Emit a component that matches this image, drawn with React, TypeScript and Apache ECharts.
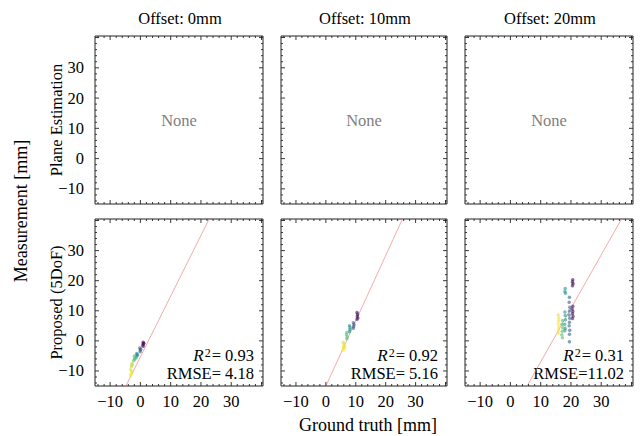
import React, { useEffect, useRef } from "react";
import * as echarts from "echarts";

// ---- data ----
const offsets = ["Offset: 0mm", "Offset: 10mm", "Offset: 20mm"];
const rowLabels = ["Plane Estimation", "Proposed (5DoF)"];
const AX_MIN = -15;
const AX_MAX = 40.5;
const tickLabels = [-10, 0, 10, 20, 30];
const majorTicks = [-10, 0, 10, 20, 30, 40];
const minorTicks = [-14, -12, -8, -6, -4, -2, 2, 4, 6, 8, 12, 14, 16, 18, 22, 24, 26, 28, 32, 34, 36, 38];

// [ground truth, measurement, colour index]
const proposed0mm = [
  [0.9, -0.5, 0.02], [1.0, -1.0, 0.02], [0.8, -1.4, 0.04], [1.1, -0.8, 0.03], [0.9, -1.8, 0.05],
  [-0.2, -2.4, 0.28], [0.0, -3.0, 0.3], [-0.1, -3.6, 0.3], [0.1, -2.8, 0.27],
  [-1.2, -4.2, 0.48], [-1.0, -4.8, 0.5], [-1.3, -5.4, 0.5], [-1.1, -4.5, 0.47],
  [-2.0, -5.0, 0.66], [-1.8, -5.8, 0.68], [-2.2, -6.5, 0.7], [-1.9, -6.1, 0.7],
  [-2.8, -7.5, 0.88], [-3.0, -8.5, 0.9], [-3.2, -9.5, 0.95], [-2.9, -10.2, 0.95],
  [-3.1, -11.0, 0.98], [-3.3, -11.5, 1.0], [-2.7, -8.0, 0.9],
];
const proposed10mm = [
  [10.4, 9.4, 0.02], [10.6, 8.8, 0.03], [10.5, 8.2, 0.04], [10.7, 7.6, 0.05], [10.4, 7.2, 0.05],
  [9.2, 6.0, 0.28], [9.4, 5.4, 0.3], [9.3, 4.8, 0.3], [9.2, 4.2, 0.32],
  [7.9, 5.0, 0.48], [8.1, 4.4, 0.5], [8.0, 3.7, 0.5], [7.9, 3.0, 0.52],
  [7.0, 2.8, 0.68], [6.9, 2.1, 0.7], [7.1, 1.4, 0.7], [7.0, 0.7, 0.72],
  [5.8, -0.5, 0.93], [6.1, -1.2, 0.95], [5.9, -1.9, 0.97], [6.0, -2.6, 1.0], [5.8, -3.1, 1.0], [6.3, -2.0, 0.98],
];
const proposed20mm = [
  [20.6, 20.3, 0.02], [20.5, 19.6, 0.03], [20.7, 19.0, 0.04], [20.5, 18.3, 0.05],
  [20.6, 11.5, 0.03], [20.4, 10.6, 0.04], [20.6, 9.8, 0.05], [20.5, 9.0, 0.05], [20.7, 8.2, 0.06], [20.5, 7.4, 0.06],
  [19.5, 14.5, 0.3], [19.4, 12.8, 0.3], [19.6, 11.2, 0.3], [19.5, 9.9, 0.32], [19.4, 8.6, 0.3],
  [19.6, 7.5, 0.32], [19.5, 6.2, 0.3], [19.4, 5.0, 0.33], [19.6, 3.5, 0.3], [19.5, 2.2, 0.32], [19.5, -0.3, 0.3],
  [18.1, 17.4, 0.5], [18.0, 16.4, 0.5], [18.2, 15.8, 0.52], [18.0, 9.6, 0.5], [18.1, 8.4, 0.5],
  [18.2, 7.0, 0.52], [17.9, 5.5, 0.5], [18.1, 4.2, 0.5], [18.0, 3.4, 0.52],
  [17.2, 6.8, 0.7], [17.0, 5.5, 0.7], [17.3, 4.4, 0.72], [17.1, 3.2, 0.7], [17.0, 2.0, 0.7], [17.2, 1.0, 0.72],
  [15.8, 8.6, 0.95], [16.0, 7.6, 0.96], [15.9, 6.6, 0.97], [15.8, 5.6, 1.0], [16.0, 4.6, 0.98], [15.9, 3.6, 1.0], [15.8, 2.6, 0.97],
];
const proposedData = [proposed0mm, proposed10mm, proposed20mm];

// fitted line end points [[x1, y1], [x2, y2]]
const fitLines = [
  [[-4.8, -15], [22.7, 40.5]],
  [[0.0, -15], [25.6, 40.5]],
  [[5.5, -15], [36.7, 40.5]],
];
const r2Values = ["0.93", "0.92", "0.31"];
const rmseValues = [" 4.18", " 5.16", "11.02"];

const viridis = ["#440154", "#3b528b", "#21918c", "#5ec962", "#fde725"];

// ---- layout ----
const colLeft = [95, 281, 465];
const colWidth = [168, 166, 168];
const rowTop = [36, 219];
const rowHeight = [168, 167];
const FONT = "'Liberation Serif', 'Times New Roman', serif";
const FS = 16.5;

const fmt = (v: number) => {
  if (!tickLabels.some((t) => Math.abs(t - v) < 1e-9)) return "";
  return v < 0 ? "\u2212" + Math.abs(v) : String(v);
};

export default function App() {
  const ref = useRef<HTMLDivElement>(null);
  useEffect(() => {
    document.body.style.margin = "0";
    const chart = echarts.init(ref.current!, null, { renderer: "svg" });
    const grids: any[] = [];
    const xAxes: any[] = [];
    const yAxes: any[] = [];
    const series: any[] = [];
    const scatterIdx: number[] = [];
    const graphics: any[] = [];
    const tickItems = [
      ...majorTicks.map((v) => [v, 0]),
      ...minorTicks.map((v) => [v, 1]),
    ];
    const center = { textAlign: "center", textVerticalAlign: "middle", align: "center", verticalAlign: "middle" };
    const rightMid = { textAlign: "right", textVerticalAlign: "middle", align: "right", verticalAlign: "middle" };
    for (let r = 0; r < 2; r++) {
      for (let c = 0; c < 3; c++) {
        const gi = r * 3 + c;
        grids.push({
          left: colLeft[c],
          top: rowTop[r],
          width: colWidth[c],
          height: rowHeight[r],
          show: true,
          borderColor: "#222",
          borderWidth: 1,
          backgroundColor: "transparent",
        });
        const labelStyle = { fontFamily: FONT, fontSize: FS, color: "#000" };
        xAxes.push({
          type: "value",
          gridIndex: gi,
          min: AX_MIN,
          max: AX_MAX,
          axisLine: { show: false },
          axisTick: { show: false },
          splitLine: { show: false },
          axisLabel: { show: r === 1, formatter: fmt, margin: 7, ...labelStyle },
        });
        yAxes.push({
          type: "value",
          gridIndex: gi,
          min: AX_MIN,
          max: AX_MAX,
          axisLine: { show: false },
          axisTick: { show: false },
          splitLine: { show: false },
          axisLabel: { show: c === 0, formatter: fmt, margin: 11, ...labelStyle },
        });
        series.push({
          type: "custom",
          xAxisIndex: gi,
          yAxisIndex: gi,
          silent: true,
          clip: false,
          z: 10,
          data: tickItems,
          renderItem: (params: any, api: any) => {
            const v = api.value(0);
            const k = api.value(1);
            const cs = params.coordSys;
            const len = k === 0 ? 4 : 2;
            const px = api.coord([v, AX_MIN])[0];
            const py = api.coord([AX_MIN, v])[1];
            const style = { stroke: "#222", lineWidth: 0.9 };
            const b = cs.y + cs.height;
            const rgt = cs.x + cs.width;
            return {
              type: "group",
              children: [
                { type: "line", shape: { x1: px, y1: b, x2: px, y2: b - len }, style },
                { type: "line", shape: { x1: px, y1: cs.y, x2: px, y2: cs.y + len }, style },
                { type: "line", shape: { x1: cs.x, y1: py, x2: cs.x + len, y2: py }, style },
                { type: "line", shape: { x1: rgt, y1: py, x2: rgt - len, y2: py }, style },
              ],
            };
          },
        });
        if (r === 0) {
          graphics.push({
            type: "text",
            x: colLeft[c] + colWidth[c] / 2,
            y: rowTop[r] + rowHeight[r] / 2,
            style: { text: "None", font: `${FS}px ${FONT}`, fill: "#808080", ...center },
          });
        } else {
          scatterIdx.push(series.length);
          series.push({
            type: "scatter",
            xAxisIndex: gi,
            yAxisIndex: gi,
            symbol: "circle",
            symbolSize: 3.5,
            itemStyle: { opacity: 0.6 },
            data: proposedData[c],
            z: 3,
          });
          series.push({
            type: "line",
            xAxisIndex: gi,
            yAxisIndex: gi,
            symbol: "none",
            data: fitLines[c],
            lineStyle: { color: "#f08080", width: 0.9, opacity: 0.75 },
            z: 2,
          });
          const rx = colLeft[c] + colWidth[c] - 9;
          graphics.push({
            type: "text",
            x: rx,
            y: 355,
            style: {
              text: `{r|R}{s|2}{n|= ${r2Values[c]}}`,
              rich: {
                r: { fontFamily: FONT, fontSize: 17, lineHeight: 16, fontStyle: "italic", fill: "#000", color: "#000" },
                s: { fontFamily: FONT, fontSize: 12, lineHeight: 10, verticalAlign: "top", fill: "#000", color: "#000", padding: [0, 1, 5, 1] },
                n: { fontFamily: FONT, fontSize: FS, lineHeight: 16, fill: "#000", color: "#000" },
              },
              ...rightMid,
            },
          });
          graphics.push({
            type: "text",
            x: rx,
            y: 373.5,
            style: {
              text: `RMSE=${rmseValues[c]}`,
              font: `${FS}px ${FONT}`,
              lineHeight: 16,
              fill: "#000",
              ...rightMid,
            },
          });
        }
      }
    }
    offsets.forEach((t, c) => {
      graphics.push({
        type: "text",
        x: colLeft[c] + colWidth[c] / 2 + 1,
        y: 18,
        style: { text: t, font: `${FS}px ${FONT}`, fill: "#000", ...center },
      });
    });
    rowLabels.forEach((t, r) => {
      graphics.push({
        type: "text",
        x: 56,
        y: rowTop[r] + rowHeight[r] / 2,
        rotation: Math.PI / 2,
        style: { text: t, font: `${FS}px ${FONT}`, fill: "#000", ...center },
      });
    });
    graphics.push({
      type: "text",
      x: 21,
      y: 211,
      rotation: Math.PI / 2,
      style: { text: "Measurement [mm]", font: `18px ${FONT}`, fill: "#000", ...center },
    });
    graphics.push({
      type: "text",
      x: 368,
      y: 425,
      style: { text: "Ground truth [mm]", font: `18px ${FONT}`, fill: "#000", ...center },
    });

    chart.setOption({
      animation: false,
      backgroundColor: "#fff",
      grid: grids,
      xAxis: xAxes,
      yAxis: yAxes,
      visualMap: {
        show: false,
        type: "continuous",
        dimension: 2,
        min: 0,
        max: 1,
        seriesIndex: scatterIdx,
        inRange: { color: viridis },
      },
      series,
      graphic: graphics,
    });
    return () => chart.dispose();
  }, []);
  return <div ref={ref} style={{ width: 643, height: 436 }} />;
}
